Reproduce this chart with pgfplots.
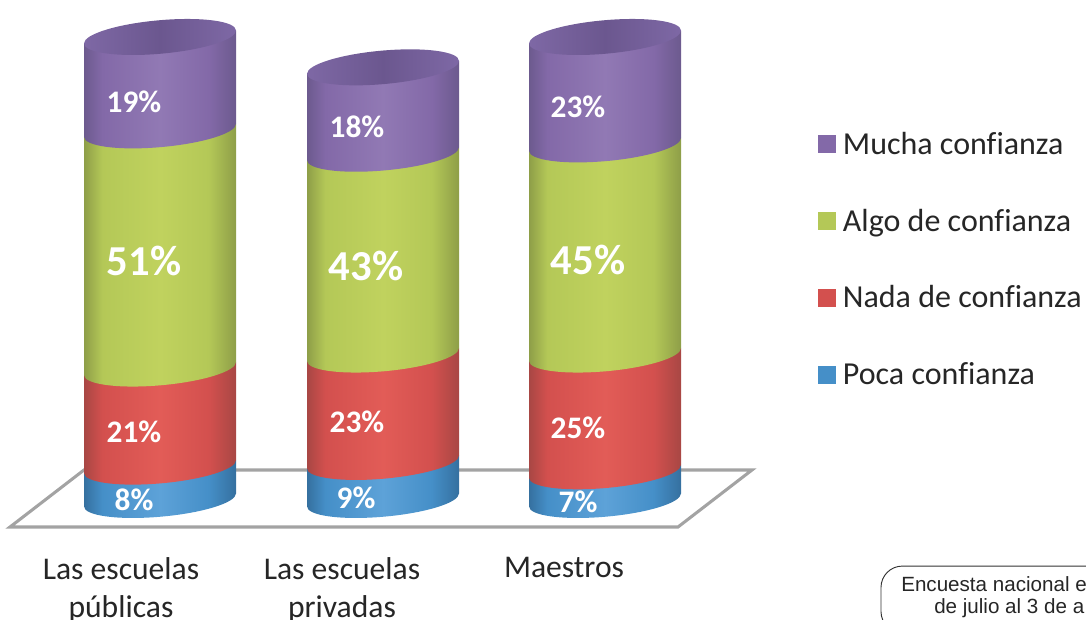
\documentclass[border=0pt]{standalone}
\usepackage{fontspec}
\setmainfont[Ligatures=CommonOff]{Carlito}
\newfontfamily\arialfont{Liberation Sans}
\usepackage{pgfplots}
\pgfplotsset{compat=1.18}

% cylinder colours: edge, mid, centre
\definecolor{purpleE}{HTML}{6C5A8E}\definecolor{purpleM}{HTML}{8369A8}\definecolor{purpleC}{HTML}{9179B4}
\definecolor{greenE}{HTML}{8E9E48}\definecolor{greenM}{HTML}{B4C857}\definecolor{greenC}{HTML}{C0D25E}
\definecolor{redE}{HTML}{A84744}\definecolor{redM}{HTML}{D3504E}\definecolor{redC}{HTML}{E25C57}
\definecolor{blueE}{HTML}{35709F}\definecolor{blueM}{HTML}{458FC8}\definecolor{blueC}{HTML}{5DA2D8}
\definecolor{capE}{HTML}{7E68A5}\definecolor{capC}{HTML}{6B578F}
\definecolor{floorgray}{HTML}{A3A3A3}

\newcommand{\cylshading}[4]{%
  \pgfdeclarehorizontalshading{#1}{100bp}{color(0bp)=(#2); color(25bp)=(#2); color(31bp)=(#3);
    color(50bp)=(#4); color(66bp)=(#3); color(75bp)=(#2); color(100bp)=(#2)}}
\cylshading{cylpurple}{purpleE}{purpleM}{purpleC}
\cylshading{cylgreen}{greenE}{greenM}{greenC}
\cylshading{cylred}{redE}{redM}{redC}
\cylshading{cylblue}{blueE}{blueM}{blueC}
\pgfdeclarehorizontalshading{cylcap}{100bp}{color(0bp)=(capE); color(25bp)=(capE);
    color(50bp)=(capC); color(75bp)=(capE); color(100bp)=(capE)}

% a slice of the cylinder, drawn upwards from the point, \segh percent high
\newcommand{\segmark}[1]{%
  \pgfdeclareplotmark{#1}{%
    \pgftransformcm{1}{0.085}{0}{1}{\pgfpointorigin}%
    \shade[shading=#1, draw=none, x=0.75pt, y=0.75pt]
      (-76,0) arc[start angle=180, end angle=360, x radius=76, y radius=16.8]
      -- (76,{\segh*4.67}) -- (-76,{\segh*4.67}) -- cycle;}}
\segmark{cylblue}\segmark{cylred}\segmark{cylgreen}\segmark{cylpurple}
\pgfdeclareplotmark{cylcap}{%
  \pgftransformcm{1}{0.085}{0}{1}{\pgfpointorigin}%
  \shade[shading=cylcap, draw=none, x=0.75pt, y=0.75pt]
    (-76,0) arc[start angle=180, end angle=360, x radius=76, y radius=16.8]
    arc[start angle=0, end angle=180, x radius=76, y radius=16.8] -- cycle;}

\pgfplotsset{
  slice/.style={only marks, scatter, point meta=y, mark=#1, forget plot,
    scatter/@pre marker code/.code={}, scatter/@post marker code/.code={},
    visualization depends on={\thisrow{h} \as \segh}},
  key/.style={legend image code/.code={%
    \fill[#1, draw=none] (0pt,-6.75pt) rectangle (13.5pt,6.75pt);
    \path[draw=none, fill=none] (0pt,0pt) -- (16.5pt,0pt);}},
}
\tikzset{
  pct/.style={font=\bfseries\fontsize{23.5}{23.5}\selectfont, text=white},
  pctbig/.style={font=\bfseries\fontsize{32}{32}\selectfont, text=white},
}

\begin{document}
\begin{tikzpicture}
\begin{axis}[
    scale only axis, width=814.5pt, height=464.25pt,
    xmin=0, xmax=1086, ymin=-24.63, ymax=107.92,
    clip mode=global, clip marker paths=true,
    axis line style={draw=none}, tick style={draw=none},
    axis x line=bottom, axis y line=left,
    ytick=\empty,
    xtick={121,342,564},
    xticklabels={{Las escuelas\\públicas},{Las escuelas\\privadas},{Maestros}},
    xticklabel style={align=center, anchor=north, yshift=52pt,
      font=\fontsize{23.7}{28.5}\selectfont, text=black!85},
    legend style={at={(axis cs:818,80.3)}, anchor=north west, draw=none, fill=none,
      font=\fontsize{24}{24}\selectfont, text=black!85, row sep=35.5pt, inner sep=0pt},
    legend cell align=left,
]
\addlegendimage{key=purpleM}\addlegendentry{Mucha confianza}
\addlegendimage{key=greenM}\addlegendentry{Algo de confianza}
\addlegendimage{key=redM}\addlegendentry{Nada de confianza}
\addlegendimage{key=blueM}\addlegendentry{Poca confianza}

% floor
\addplot[forget plot, draw=floorgray, line width=2.3pt, mark=none] coordinates
  {(10,-4.93)(84,7.28)(752,7.28)(678,-4.93)} -- cycle;

\addplot[slice=cylblue] table {
x base h
160 0.86 7.14
383 0.86 8.14
605 0.86 6.14
};
\addplot[slice=cylred] table {
x base h
160 8 21
383 9 23
605 7 25
};
\addplot[slice=cylgreen] table {
x base h
160 29 51
383 32 43
605 32 45
};
\addplot[slice=cylpurple] table {
x base h
160 80 20
383 75 18.5
605 77 23
};
\addplot[slice=cylcap] table {
x base h
160 100 0
383 93.5 0
605 100 0
};

\node[pct] at (axis cs:134,86.1) {19\%};
\node[pctbig] at (axis cs:144,52.0) {51\%};
\node[pct] at (axis cs:134,15.4) {21\%};
\node[pct] at (axis cs:134,0.86) {8\%};
\node[pct] at (axis cs:357,80.7) {18\%};
\node[pctbig] at (axis cs:366,51.0) {43\%};
\node[pct] at (axis cs:357,17.6) {23\%};
\node[pct] at (axis cs:356,1.3) {9\%};
\node[pct] at (axis cs:578,85.0) {23\%};
\node[pctbig] at (axis cs:588,52.2) {45\%};
\node[pct] at (axis cs:578,16.3) {25\%};
\node[pct] at (axis cs:578,0.4) {7\%};

% source box, cut off by the page
\draw[black!80, line width=0.7pt, rounded corners=16pt]
  (axis cs:1130,-27.6) -- (axis cs:881,-27.6) -- (axis cs:881,-13.3) -- (axis cs:1130,-13.3);
\node[anchor=base west, inner sep=0pt, text=black!85, font=\arialfont\fontsize{15.45}{15.45}\selectfont]
  at (axis cs:901,-18.7) {Encuesta nacional e};
\node[anchor=base west, inner sep=0pt, text=black!85, font=\arialfont\fontsize{15.45}{15.45}\selectfont]
  at (axis cs:934,-23.4) {de julio al 3 de a};
\end{axis}
\pgfresetboundingbox
\path[use as bounding box] (0,0) rectangle (814.5pt,464.25pt);
\end{tikzpicture}
\end{document}
